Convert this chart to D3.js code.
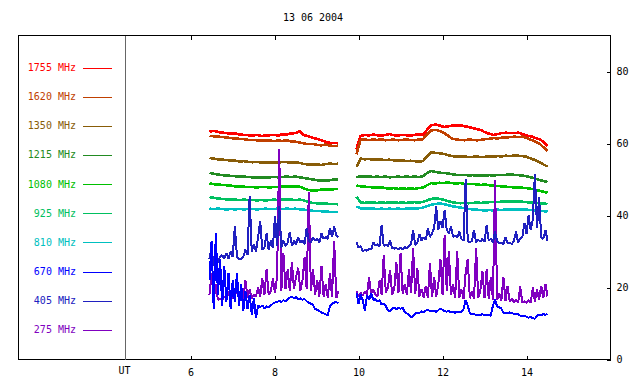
<!DOCTYPE html>
<html>
<head>
<meta charset="utf-8">
<script src="https://cdn.jsdelivr.net/npm/d3@7"></script>
<style>
  body { margin: 0; background: #fff; }
  svg text { font-family: "DejaVu Sans Mono", "Liberation Mono", monospace; font-size: 10px; fill: #000; }
</style>
</head>
<body>
<div id="chart"></div>
<script>
// legend / channels, top to bottom
var freqs = ["1755", "1620", "1350", "1215", "1080", "925", "810", "670", "405", "275"];
var colors = ["#ff0000", "#c04000", "#885c08", "#228b22", "#00c000", "#00c060", "#00c0c0", "#0000ff", "#2020c0", "#8000c0"];
var xTicks = [6, 8, 10, 12, 14];
var yTicks = [0, 20, 40, 60, 80];
var title = "13 06 2004";

// two recording periods (UT hours)
var period1 = [6.45, 9.52];
var period2 = [9.95, 14.5];

// flux per channel, period 1 and period 2
var f1755a = [63.3,63.5,63.2,63.0,62.9,62.7,62.8,62.5,62.4,62.3,62.2,62.4,62.1,62.2,62.3,62.4,62.2,62.6,62.5,62.8,62.9,63.4,62.3,62.0,61.6,61.3,60.9,60.5,60.2,60.1,60.1];
var f1755b = [58.5,62.1,62.4,62.2,62.5,62.3,62.2,62.4,62.6,62.3,62.2,62.4,62.3,62.2,62.4,62.5,62.4,63.8,65.0,65.3,65.0,64.6,64.7,65.0,64.9,65.1,64.8,64.6,64.3,64.0,63.7,63.1,62.7,62.4,62.6,62.9,63.0,62.9,62.9,63.0,62.6,62.2,62.0,61.6,61.2,60.5,59.3];
var f1620a = [62.1,62.0,61.9,61.8,61.7,61.5,61.4,61.3,61.2,61.0,61.0,60.9,60.8,60.9,60.8,60.7,60.8,60.7,60.9,60.6,60.5,60.3,60.0,59.8,59.9,59.6,59.5,59.7,59.4,59.3,59.4];
var f1620b = [57.0,61.0,61.2,60.9,61.1,61.0,61.2,60.9,61.0,61.1,60.9,61.0,61.1,61.0,60.9,61.1,61.2,62.6,63.6,63.8,63.5,63.0,62.2,61.4,61.1,61.0,60.9,61.1,61.0,60.9,61.0,61.2,61.3,61.5,61.4,61.6,61.6,61.8,61.9,61.8,61.9,61.5,61.0,60.6,60.0,59.0,58.0];
var f1350a = [56.0,55.8,55.6,55.5,55.4,55.3,55.2,55.0,55.1,54.9,54.8,54.9,54.7,54.8,54.7,54.8,54.7,54.9,54.8,54.7,54.8,54.6,54.3,54.2,54.1,54.2,54.0,54.3,54.4,54.3,54.4];
var f1350b = [53.5,55.8,55.6,55.7,55.5,55.6,55.5,55.4,55.5,55.3,55.2,55.3,55.1,55.2,55.1,55.0,55.1,56.4,57.6,57.4,57.3,57.1,56.8,56.5,56.4,56.3,56.4,56.2,56.3,56.4,56.2,56.3,56.4,56.3,56.5,56.4,56.6,56.5,56.7,56.6,56.5,56.3,55.8,55.4,54.8,54.2,53.6];
var f1215a = [51.9,51.6,51.4,51.2,51.1,51.0,50.9,50.8,50.8,50.7,50.6,50.6,50.5,50.6,50.6,50.7,50.6,50.7,50.8,50.7,50.8,50.6,50.4,50.2,50.0,49.8,49.7,49.7,49.8,50.0,50.1];
var f1215b = [50.6,50.9,50.8,50.9,50.7,50.8,50.7,50.8,50.6,50.7,50.8,50.7,50.8,50.7,50.8,50.7,50.9,51.8,52.4,52.1,51.9,51.8,51.7,51.5,51.3,51.2,51.3,51.1,51.2,51.1,51.2,51.1,51.2,51.1,51.3,51.2,51.3,51.4,51.3,51.2,51.1,50.9,50.6,50.3,49.9,49.6,49.3];
var f1080a = [48.9,48.7,48.6,48.5,48.4,48.3,48.1,48.1,48.0,47.9,47.9,47.8,47.9,47.9,47.8,47.9,47.9,48.0,48.1,48.0,48.1,48.0,47.5,47.1,46.9,47.0,47.2,47.3,47.2,47.3,47.4];
var f1080b = [48.3,48.1,48.0,47.9,47.8,47.7,47.8,47.6,47.5,47.6,47.4,47.5,47.4,47.5,47.4,47.6,47.8,48.4,49.0,48.9,49.1,49.0,49.2,49.0,48.9,49.0,48.8,48.7,48.8,48.6,48.5,48.6,48.4,48.3,48.2,48.1,48.0,47.9,47.8,47.7,47.7,47.6,47.4,47.2,46.9,46.6,46.3];
var f925a = [45.1,44.9,44.7,44.6,44.5,44.5,44.4,44.3,44.4,44.3,44.3,44.2,44.3,44.2,44.3,44.4,44.3,44.4,44.5,44.4,44.3,44.4,44.2,43.8,43.5,43.4,43.3,43.3,43.2,43.2,43.1];
var f925b = [45.2,43.6,43.5,43.7,43.6,43.5,43.6,43.5,43.6,43.7,43.5,43.6,43.5,43.6,43.7,43.6,43.8,44.2,44.6,44.8,44.6,44.4,44.0,43.7,43.5,43.4,43.5,43.4,43.5,43.6,43.5,43.6,43.7,43.8,43.7,43.9,43.8,43.9,43.8,43.9,43.8,43.7,43.6,43.5,43.4,43.3,43.2];
var f810a = [41.9,41.8,41.9,41.8,41.7,41.8,41.7,41.8,41.7,41.8,41.8,41.7,41.8,41.9,41.8,41.8,41.9,41.8,41.9,41.8,41.9,41.7,41.6,41.5,41.3,41.2,41.2,41.1,41.0,41.0,40.9];
var f810b = [42.5,42.0,41.9,42.0,41.9,41.8,41.9,41.8,41.9,41.8,41.9,41.8,41.9,42.0,41.9,42.0,42.2,42.6,43.0,43.2,43.3,43.2,42.9,42.6,42.4,42.2,42.0,41.8,41.7,41.6,41.5,41.4,41.5,41.4,41.6,41.5,41.7,41.6,41.7,41.6,41.7,41.6,41.5,41.4,41.3,41.2,41.1];
var f670a = [22,33,14,35,18,28,15,26,16,24,14,22,16,24,15,21,13.5,19,14,18,12.5,17,11.5,15,14.5,15,14.2,14.8,14.5,15,15.5,15.8,16,16.3,15.9,16.5,16.2,16.8,17.2,17.5,17,17.3,16.8,17,16.6,16.8,16.2,15.8,15.5,15.2,14,13.8,13.5,13,12.8,12.5,12.3,14.8,15.5,15.8,16,15.6];
var f670b = [18.5,15.5,18,16.5,13.5,17.8,16.5,18.5,16.5,16.8,16.2,16.5,15.2,15.6,14.8,13.6,13.4,14.2,14.4,14,14.3,14.1,14.4,13.2,12.8,12.5,11.8,12,12.8,13,12.9,13.4,13.2,13.6,13.8,13.4,13.6,13.5,13.2,13.7,14.2,13.8,13.4,13.3,13.5,13.1,13.2,13,13.3,13.1,13.2,14,16.5,15,12.8,12.5,12.6,12.3,12.5,12.4,12.6,12.3,12.5,12.4,12.2,15,16.6,14.8,14.5,14.2,12.9,13,12.8,13.1,12.9,12.7,12.5,12.6,12.2,12,12.1,11.9,11.6,11.8,11.5,11.3,12.2,12.5,12.3,12.6,12.4,12.7];
var f405a = [28,31,26,29,27,28.5,29,28,29.5,28,30,28.5,37,28.5,28,27.8,28.5,30.5,29,45.5,30,32,30,34,38.5,30.5,31,35,30.5,33,31,39.9,31.5,42.7,31,33,31.5,32.5,35.5,31.5,33,32,34,32.5,33,32,36.5,33,32.5,34,33,33.5,32.5,35,33.5,34,33.5,36.5,34,37,34.5,34];
var f405b = [32.5,31,31.5,30,30.5,30.2,30.8,30.5,32.5,31.8,32,31.5,37.4,31.5,32,31.5,33,31,30.8,31,30.5,31,30.7,31.2,30.8,31.5,32,36,31.8,32.5,34.8,33,34,33.2,36.5,34,35,36.5,42.5,36,38.5,36.5,41.6,36,35,37,34,34.5,33.8,35.5,33.5,33,50,33,32.5,33,36,32.5,33.2,32.8,33.5,32.8,37.4,33,33.5,32.5,35.5,32.8,32.2,32.5,32,34,32.2,32.5,32,33,35.5,32.5,33.5,34,38,35,40,36,39,51.6,36.5,45,34,33.5,36,33];
var f275a = [18,24,16.5,21,16.5,17,16.3,17.5,16.8,19,16.5,17.2,16.8,21.5,17,18,17,22,17.2,19.5,17,18,17.5,20,17.5,22.5,18,25,18,19,22.5,18.5,23,58.6,19,29.5,19.5,25,19,27,19.5,23,25.5,19,22,28.5,19.5,46.5,19,25,18,22,17.5,26,17.5,21,17,24,17.5,33,17,19];
var f275b = [19,17.5,18.5,17.8,19,18,22.8,18.2,19.5,18,17.6,22,18,29,18.5,20,24.9,18,19.5,27.2,18.5,29.5,18.3,21,18,25,18.5,30.9,18.2,25.5,17.5,19.5,17.2,20.5,17,26.8,17.3,23,17.5,21,28,18,34.6,19,30,18,21,17,30,17.2,19.5,16.8,24,28,17,19,16.8,30.9,17,19,24.5,17,25,16.8,23,16.6,49.9,16.5,18.5,16.3,23,16.2,20.5,16,17,15.9,16.5,15.8,20.3,15.8,16.2,15.7,16.5,15.8,20,16,19.5,16.5,20.5,17,21,17.5];

var seriesA = [f1755a, f1620a, f1350a, f1215a, f1080a, f925a, f810a, f670a, f405a, f275a];
var seriesB = [f1755b, f1620b, f1350b, f1215b, f1080b, f925b, f810b, f670b, f405b, f275b];

var w = 640, h = 384;
var svg = d3.select("#chart").append("svg").attr("width", w).attr("height", h);

var x = d3.scaleLinear().domain([4.45, 16]).range([125.5, 610.5]);
var y = d3.scaleLinear().domain([0, 90]).range([359.5, 35.5]);

// time of each sample in a period
var withTimes = function(vals, period) {
  var step = (period[1] - period[0]) / (vals.length - 1);
  return vals.map(function(v, i) { return [period[0] + i * step, v]; });
};

var line = d3.line().x(function(d) { return x(d[0]); }).y(function(d) { return y(d[1]); });

// draw order: upper channels first, then 275, 405, 670
var order = [0, 1, 2, 3, 4, 5, 6, 9, 8, 7];
var plot = svg.append("g").attr("shape-rendering", "crispEdges");
order.forEach(function(k) {
  var noisy = k >= 7;
  [withTimes(seriesA[k], period1), withTimes(seriesB[k], period2)].forEach(function(pts) {
    plot.append("path")
      .attr("d", line(pts))
      .attr("fill", "none")
      .attr("stroke", colors[k])
      .attr("stroke-linejoin", "bevel")
      .attr("stroke-width", noisy ? 2 : 2.6);
  });
});

// frame and divider
svg.append("rect").attr("x", 18.5).attr("y", 35.5).attr("width", 592).attr("height", 324)
  .attr("fill", "none").attr("stroke", "#000").attr("shape-rendering", "crispEdges");
svg.append("line").attr("x1", 125.5).attr("x2", 125.5).attr("y1", 35.5).attr("y2", 359.5)
  .attr("stroke", "#666").attr("shape-rendering", "crispEdges");

// axes
var xBottom = d3.axisBottom(x).tickValues(xTicks).tickSizeInner(-4).tickSizeOuter(0).tickPadding(9).tickFormat(d3.format("d"));
var xTop = d3.axisTop(x).tickValues(xTicks).tickSizeInner(-4).tickSizeOuter(0).tickFormat("");
var yRight = d3.axisRight(y).tickValues(yTicks).tickSizeInner(-4).tickSizeOuter(0).tickPadding(6);

var gxb = svg.append("g").attr("transform", "translate(0,359.5)").call(xBottom);
var gxt = svg.append("g").attr("transform", "translate(0,35.5)").call(xTop);
var gyr = svg.append("g").attr("transform", "translate(610.5,0)").call(yRight);
[gxb, gxt, gyr].forEach(function(g) {
  g.select(".domain").remove();
  g.attr("font-family", null).attr("font-size", null);
  g.selectAll("line").attr("stroke", "#000").attr("shape-rendering", "crispEdges");
});

svg.append("text").attr("x", 124.5).attr("y", 374).attr("text-anchor", "middle").text("UT");
svg.append("text").attr("x", 313).attr("y", 21).attr("text-anchor", "middle").text(title);

// legend
var legend = svg.append("g");
freqs.forEach(function(f, i) {
  var ly = 67.5 + i * 29.15;
  legend.append("text").attr("x", 76).attr("y", ly + 3.5).attr("text-anchor", "end")
    .style("fill", colors[i]).text(f + " MHz");
  legend.append("line").attr("x1", 83).attr("x2", 112).attr("y1", Math.round(ly) + 0.5).attr("y2", Math.round(ly) + 0.5)
    .attr("stroke", colors[i]).attr("shape-rendering", "crispEdges");
});
</script>
</body>
</html>
